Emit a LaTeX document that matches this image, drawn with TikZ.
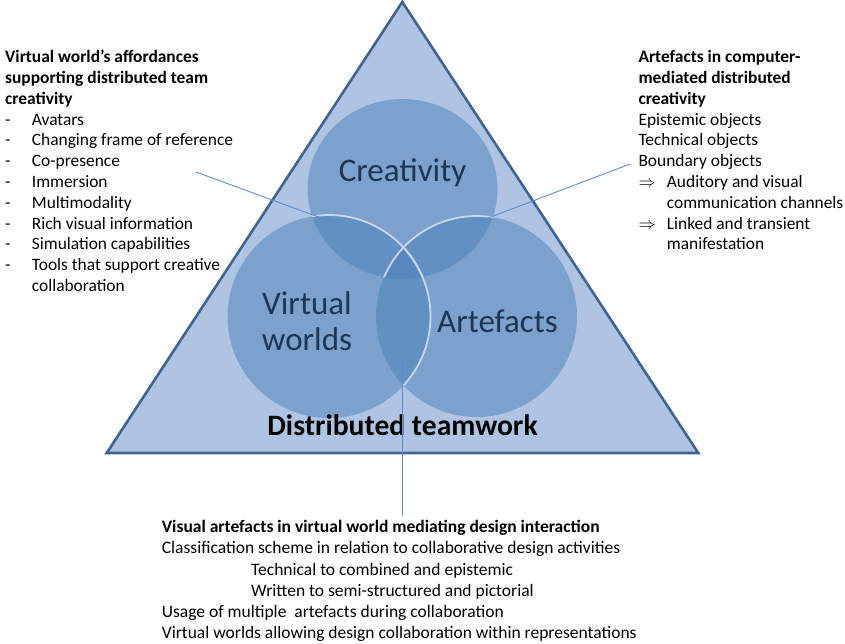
\documentclass[tikz,border=0pt]{standalone}
\usepackage{fontspec}
\setmainfont{Carlito}
\usetikzlibrary{shapes.geometric}
\definecolor{trifill}{HTML}{AEC4E2}
\definecolor{triedge}{HTML}{41648F}
\definecolor{setfill}{HTML}{4C80BA}
\definecolor{rimcol}{HTML}{C8D7EC}
\definecolor{setlabel}{HTML}{1E3656}
\definecolor{leader}{HTML}{5B8BCF}
\begin{document}
\begin{tikzpicture}[x=1pt,y=-1pt,
  body/.style={font=\fontsize{17.4}{20.8}\selectfont, inner sep=0pt, align=left, anchor=base west},
  bodywide/.style={body, font=\fontsize{17.5}{21.1}\selectfont},
  setname/.style={font=\fontsize{33}{36}\selectfont, text=setlabel, inner sep=0pt, align=center, anchor=base},
  setdisc/.style={fill=setfill, fill opacity=0.5},
  rim/.style={draw=rimcol, line width=1.8pt},
  leaderline/.style={draw=leader, line width=0.9pt}]
\useasboundingbox (0,0) rectangle (845,643);

% the triangle of distributed teamwork
\filldraw[fill=trifill, draw=triedge, line width=2.6pt] (402.3,2) -- (106.7,453) -- (698.3,453) -- cycle;

% the three overlapping sets
\fill[setdisc] (402.5,189) ellipse [x radius=95, y radius=90];
\fill[setdisc] (476.5,316.5) circle [radius=100.5];
\fill[setdisc] (329,316.5) circle [radius=101.5];

% pale rims where the sets cross
\begin{scope}
  \clip (402.5,189) ellipse [x radius=95, y radius=90];
  \draw[rim] (476.5,316.5) circle [radius=100.5];
  \draw[rim] (329,316.5) circle [radius=101.5];
\end{scope}
\begin{scope}
  \clip (476.5,316.5) circle [radius=100.5];
  \draw[rim] (329,316.5) circle [radius=101.5];
\end{scope}

% set labels (a multi-line node sits on the baseline of its last line)
\node[setname] (creativity) at (402.5,181) {Creativity};
\node[setname] (vworlds) at (307,350) {Virtual\\worlds};
\node[setname] (artefacts) at (497.5,332) {Artefacts};
\node[font=\fontsize{29.6}{32}\bfseries, inner sep=0pt, anchor=base] (teamwork) at (402.5,435) {Distributed teamwork};

% side and bottom descriptions
\node[body] (affordances) at (5,291.5) {%
\textbf{Virtual world’s affordances}\\
\textbf{supporting distributed team}\\
\textbf{creativity}\\
\makebox[26.7pt][l]{-}Avatars\\
\makebox[26.7pt][l]{-}Changing frame of reference\\
\makebox[26.7pt][l]{-}Co-presence\\
\makebox[26.7pt][l]{-}Immersion\\
\makebox[26.7pt][l]{-}Multimodality\\
\makebox[26.7pt][l]{-}Rich visual information\\
\makebox[26.7pt][l]{-}Simulation capabilities\\
\makebox[26.7pt][l]{-}Tools that support creative\\
\hspace*{26.7pt}collaboration};

\node[body] (mediated) at (638.3,249.9) {%
\textbf{Artefacts in computer-}\\
\textbf{mediated distributed}\\
\textbf{creativity}\\
Epistemic objects\\
Technical objects\\
Boundary objects\\
\makebox[28.4pt][l]{$\Rightarrow$}Auditory and visual\\
\hspace*{28.4pt}communication channels\\
\makebox[28.4pt][l]{$\Rightarrow$}Linked and transient\\
\hspace*{28.4pt}manifestation};

\node[bodywide] (interaction) at (161.7,638.3) {%
\textbf{Visual artefacts in virtual world mediating design interaction}\\
Classification scheme in relation to collaborative design activities\\
\hspace*{89.3pt}Technical to combined and epistemic\\
\hspace*{89.3pt}Written to semi-structured and pictorial\\
Usage of multiple\ \ artefacts during collaboration\\
Virtual worlds allowing design collaboration within representations};

% leader lines from the descriptions into the overlaps
\coordinate (affordancesTip) at (196,172);
\coordinate (vwCreativity) at (332,222);
\coordinate (mediatedTip) at (630,164);
\coordinate (artCreativity) at (467,226);
\coordinate (interactionTip) at (402.7,516);
\coordinate (vwArt) at (402.7,360);
\draw[leaderline] (affordancesTip) -- (vwCreativity);
\draw[leaderline] (mediatedTip) -- (artCreativity);
\draw[leaderline] (interactionTip) -- (vwArt);
\end{tikzpicture}
\end{document}
